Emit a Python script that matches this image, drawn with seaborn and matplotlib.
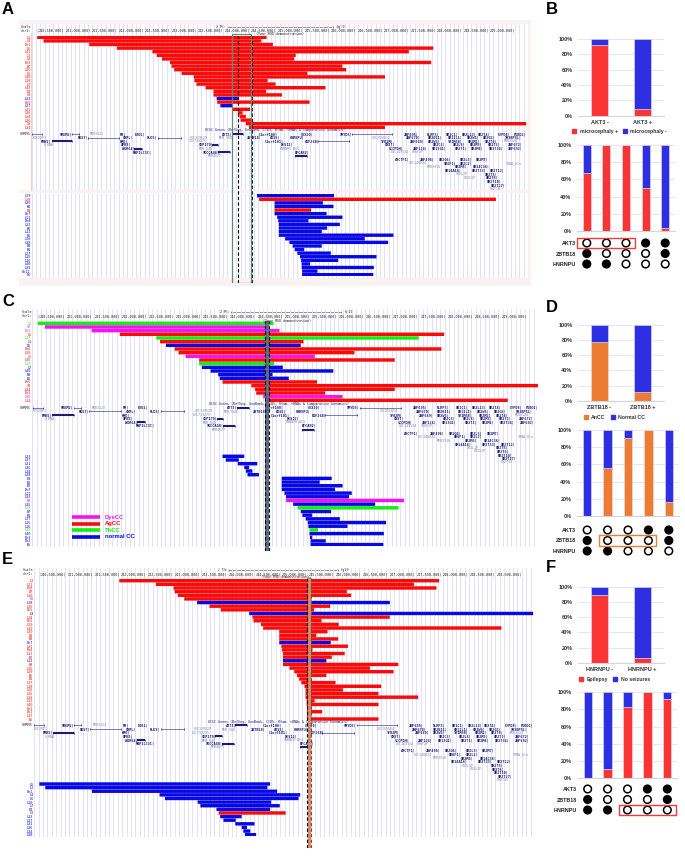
import numpy as np
import pandas as pd
import seaborn as sns
import matplotlib.pyplot as plt
from matplotlib.patches import Rectangle
from matplotlib.lines import Line2D

W, H = 685, 864

# panel A tracks (Mb on chr1)
a_top_labels = ["L1", "L4", "Dn1", "L5", "L41", "L2", "L3", "Dn3", "B7", "L10", "L6", "L40", "L18",
                "L7", "L43", "D4", "L8", "L33", "Dn5", "L37", "L31", "L36", "L34", "L30", "L9", "L24"]
a_top_start = [239.99, 240.11, 240.97, 241.49, 242.16, 242.24, 242.34, 242.49, 242.52, 242.57, 242.71, 242.94, 242.95,
               242.99, 243.16, 243.31, 243.31, 243.37, 243.38, 243.44, 243.66, 243.77, 243.80, 243.82, 243.92, 243.98]
a_top_end = [244.31, 244.21, 244.43, 247.45, 246.99, 244.86, 244.83, 247.41, 245.74, 245.81, 245.08, 246.54, 244.33,
             244.48, 245.42, 244.30, 244.60, 243.77, 245.12, 243.66, 244.00, 243.86, 243.92, 244.05, 249.20, 246.54]
a_top_color = ["red"] * 17 + ["blue", "red", "blue"] + ["red"] * 6

a_low_labels = ["L29", "L28", "L35", "B3", "B4", "Dn7", "L11", "Dn4", "L32", "B2", "L12", "B6", "L26",
                "L38", "B8", "B1", "L27", "L15", "L16", "L40", "L39", "Dn12", "D6"]
a_low_start = [244.13, 244.17, 244.46, 244.46, 244.46, 244.46, 244.51, 244.53, 244.54, 244.54, 244.54, 244.54,
               244.66, 244.74, 244.80, 244.84, 244.89, 244.94, 244.96, 244.97, 244.97, 244.98, 244.98]
a_low_end = [245.58, 248.63, 245.37, 245.57, 245.15, 245.44, 245.74, 245.10, 245.69, 245.45, 245.35, 246.70,
             246.16, 246.60, 245.35, 245.02, 245.52, 246.38, 245.66, 245.13, 246.33, 245.27, 246.32]
a_low_color = ["blue", "red", "blue", "blue", "red"] + ["blue"] * 18

# panel C tracks
c_top_labels = ["L1", "S2", "Dn1", "L5", "L43", "L4", "D5", "Dn6", "L10", "L6", "L26", "L19", "L7",
                "L40", "B9", "B5", "Dn5", "S8", "L34", "Dn3", "L30", "L14"]
c_top_start = [239.99, 240.12, 240.98, 241.50, 242.17, 242.24, 242.35, 242.51, 242.58, 242.71, 242.96, 242.96,
               243.01, 243.17, 243.31, 243.34, 243.39, 243.92, 243.99, 244.01, 244.14, 244.18]
c_top_end = [244.33, 244.23, 244.44, 247.47, 247.00, 244.88, 244.83, 247.42, 245.82, 245.09, 246.56, 244.34,
             244.50, 245.43, 244.31, 244.61, 245.13, 249.21, 246.56, 245.28, 245.60, 248.64]
c_top_color = ["green", "magenta", "magenta", "red", "green", "red", "blue", "red", "red", "magenta", "red",
               "green", "blue", "blue", "blue", "blue", "red", "red", "red", "red", "magenta", "red"]

c_low_labels = ["L33", "L37", "L31", "L36", "L34", "L38", "D8", "B6", "B2", "Dn7", "L11", "L32", "B8",
                "L35", "L29", "B7", "B1", "L27", "L15", "L16", "L39", "L40", "Dn3", "Dn2", "B5"]
c_low_start = [243.39, 243.45, 243.67, 243.79, 243.82, 243.85, 244.48, 244.48, 244.48, 244.48, 244.53, 244.56,
               244.56, 244.69, 244.77, 244.83, 244.86, 244.92, 244.96, 244.97, 244.99, 244.99, 245.00, 245.01, 245.01]
c_low_end = [243.79, 243.69, 244.03, 243.88, 243.94, 244.06, 245.40, 245.18, 245.60, 245.46, 245.77, 245.72,
             246.73, 246.20, 246.63, 245.39, 245.04, 245.55, 246.40, 245.69, 245.15, 246.36, 245.04, 245.29, 246.35]
c_low_color = ["blue"] * 12 + ["magenta", "blue", "green"] + ["blue"] * 5 + ["green"] + ["blue"] * 4

# panel E tracks
e_top_labels = ["L3", "L21", "Dn8", "D7", "L10", "L6", "L28", "L25", "Dn5", "L9", "L24", "Dn1", "L29",
                "L19", "L20", "B4", "B3", "Dn7", "L31", "Dn4", "L11", "B2", "L12", "B8", "L26", "L39",
                "B6", "B1", "L27", "L18", "L16", "L15", "L33", "L22", "L40", "Dn3", "Dn2", "L17", "B5"]
e_top_start = [241.49, 242.17, 242.50, 242.52, 242.58, 242.70, 242.94, 243.17, 243.38, 243.91, 243.97, 243.99, 244.13,
               244.17, 244.47, 244.47, 244.47, 244.47, 244.51, 244.52, 244.54, 244.54, 244.54, 244.54, 244.66, 244.75,
               244.80, 244.84, 244.88, 244.94, 244.96, 244.96, 244.96, 244.98, 244.98, 244.99, 244.99, 244.99, 244.99]
e_top_end = [247.45, 246.98, 247.40, 245.73, 245.81, 245.07, 246.53, 245.42, 245.12, 249.20, 246.53, 245.26, 245.58,
             248.61, 245.37, 245.16, 245.57, 245.43, 245.75, 245.09, 245.69, 245.45, 245.35, 246.69, 246.16, 246.60,
             245.35, 245.07, 245.52, 246.37, 245.66, 246.32, 247.06, 245.13, 246.32, 245.07, 245.27, 245.07, 246.32]
e_top_color = ["red"] * 39
for i in [6, 9, 17, 22]:
    e_top_color[i] = "blue"

e_low_labels = ["L5", "L2", "Dn1", "L4", "L6", "L10", "L7", "D4", "L8", "L33", "L37", "L31", "L36", "L34", "L38"]
e_low_start = [240.00, 240.11, 240.98, 242.24, 242.34, 242.95, 243.00, 243.30,
               243.34, 243.37, 243.43, 243.65, 243.77, 243.80, 243.83]
e_low_end = [244.30, 244.25, 244.43, 244.86, 244.83, 244.32, 244.48, 244.30,
             244.59, 243.77, 243.66, 244.01, 243.87, 243.93, 244.04]
e_low_color = ["blue"] * 8 + ["red"] + ["blue"] * 6

# gene track, same genes in the three browser panels
gene_names = ["GREM2", "FH", "EXO1", "RGS7", "CHML", "PLD5", "FMN2", "KMO", "OPN3", "CEP170", "WDR64",
              "MAP1LC3C", "SDCCAG8", "AKT3", "ZBTB18", "C1orf100", "ADSS", "HNRNPU", "C1orf101", "DESI2", "KIF26B",
              "EFCAB2", "SMYD3", "COX20", "ZNF695", "NLRP3", "OR1C1", "OR2L13", "OR2T4", "LYPD8", "PGBD2",
              "ZNF670", "OR2B11", "OR11L1", "OR2W5", "OR2G3", "SH3BP5L", "TFB2M", "ZNF669", "OR2W3", "TRIM58",
              "OR2M2", "OR2T8", "CNST", "OR2C3", "OR2L8", "OR2M3", "OR2T3", "ZNF672", "SCCPDH", "ZNF124",
              "OR13G1", "OR2T1", "OR2M4", "OR2T34", "ZNF692", "AHCTF1", "ZNF496", "OR2G6", "OR2L3", "OR2M7",
              "OR6F1", "OR2L2", "OR2M5", "OR14C36", "OR14A16", "OR2T33", "OR2T12", "OR2T5", "OR2T6", "OR2T10",
              "OR2T27"]
gene_x = [240.42, 241.55, 241.83, 240.75, 241.61, 242.06, 240.06, 241.54, 241.56, 243.03, 241.59,
          241.80, 243.11, 243.47, 243.94, 244.16, 244.38, 244.74, 244.28, 244.58, 245.03,
          244.85, 245.68, 244.95, 246.89, 247.33, 247.69, 247.98, 248.29, 248.67, 248.97,
          246.94, 247.34, 247.73, 248.08, 248.38, 248.79, 246.47, 247.00, 247.34, 247.73,
          248.11, 248.42, 246.54, 247.45, 247.82, 248.13, 248.47, 248.85, 246.62, 247.06,
          247.43, 247.85, 248.16, 248.49, 248.86, 246.73, 247.20, 247.55, 247.95, 248.25,
          247.64, 247.95, 247.86, 248.20, 247.67, 248.17, 248.52, 248.42, 248.44, 248.46,
          248.54]
gene_row = [1, 1, 1, 2, 2, 2, 3, 3, 4, 4, 5,
            6, 6, 1, 2, 1, 2, 2, 3, 4, 3,
            6, 1, 1, 1, 1, 1, 1, 1, 1, 1,
            2, 2, 2, 2, 2, 2, 3, 3, 3, 3,
            3, 3, 4, 4, 4, 4, 4, 4, 5, 5,
            5, 5, 5, 5, 5, 8, 8, 8, 8, 8,
            9, 9, 10, 10, 11, 11, 11, 12, 13, 14,
            15]

gray_names = ["MIR3123", "KIF28P1", "LOC339529", "LOC731275", "U_RNA", "MIR_548", "MIR4677", "MIR_568",
              "HNRNPU-AS1", "LOC255654", "MIR3124", "LOC149134", "OR6F2P", "LOC148824", "TRNA_Glu",
              "MIR3916", "OR2L1P", "OR2G1P", "OR2T35"]
gray_x = [240.99, 239.90, 242.87, 242.84, 240.11, 243.03, 243.20, 243.41,
          244.56, 246.28, 248.77, 246.64, 247.04, 246.98, 248.82,
          247.33, 247.88, 248.02, 248.52]
gray_row = [1, 2, 2, 3, 4, 5, 7, 2,
            5, 2, 3, 6, 6, 9, 9,
            10, 12, 13, 16]

# gene bodies
body_start = [239.90, 240.65, 240.94, 242.26, 240.26, 243.28, 241.82, 243.40, 243.65, 245.27, 245.92, 244.85]
body_end = [240.08, 240.78, 241.53, 242.69, 240.65, 243.40, 241.97, 243.62, 243.87, 245.87, 246.67, 245.07]
body_row = [1, 1, 2, 2, 3, 4, 5, 6, 1, 3, 1, 7]
body_solid = [False, False, False, False, True, True, True, True, True, False, False, True]

# stacked bars, right hand panels
b_top_cats = ["AKT3 -", "AKT3 +"]
b_top_low = [92, 9]
b_top_high = [8, 91]
b_bars_low = [67, 100, 100, 50, 4]
b_bars_high = [33, 0, 0, 50, 96]

d_top_cats = ["ZBTB18 -", "ZBTB18 +"]
d_top_low = [77, 12]
d_top_high = [23, 88]
d_bars_low = [0, 56, 91, 100, 16]
d_bars_high = [100, 44, 9, 0, 84]

f_top_cats = ["HNRNPU -", "HNRNPU +"]
f_top_low = [89, 7]
f_top_high = [11, 93]
f_bars_low = [0, 11, 83, 100, 92]
f_bars_high = [100, 89, 17, 0, 8]

dot_genes = ["AKT3", "ZBTB18", "HNRNPU"]
dot_filled = [[0, 0, 0, 1, 1],
              [1, 0, 0, 0, 1],
              [1, 1, 0, 0, 0]]

track_colors = {"red": "#fb0a0a", "blue": "#0808e6", "green": "#14ee14", "magenta": "#f414f0"}
chart_red = "#f93434"
chart_blue = "#2f2fe2"
chart_orange = "#ec7c34"
grid_col = "#e2e2f6"
navy = "#1c1c78"

sns.set_theme(style="white")
plt.rcParams["font.family"] = ["Liberation Sans", "DejaVu Sans"]
plt.rcParams["axes.axisbelow"] = True

fig = plt.figure(figsize=(W / 100, H / 100), dpi=100, facecolor="white")


def axes_px(left, top, right, bottom):
    ax = fig.add_axes([left / W, 1 - bottom / H, (right - left) / W, (bottom - top) / H])
    ax.patch.set_alpha(0)
    return ax


def mb_lim(left, right, px0, px_per_mb):
    return 240 + (left - px0) / px_per_mb, 240 + (right - px0) / px_per_mb


def grid_block(left, top, right, bottom, xlim):
    ax = axes_px(left, top, right, bottom)
    ax.set_xlim(xlim)
    ax.set_ylim(0, 1)
    ax.set_yticks([])
    ax.set_xticks(np.arange(239.75, 249.3, 1 / 12))
    ax.tick_params(length=0, labelbottom=False)
    ax.grid(axis="x", color=grid_col, lw=0.7)
    sns.despine(ax=ax, left=True, bottom=True)
    return ax


def track_block(left, right, y0, pitch, xlim, labels, starts, ends, colors):
    n = len(labels)
    ax = axes_px(left, y0 - pitch / 2, right, y0 + (n - 0.5) * pitch)
    rows = np.arange(n)
    starts = np.array(starts)
    ends = np.array(ends)
    colors = np.array(colors)
    for name in np.unique(colors):
        # bars of the other colours get zero length so every row stays in place
        widths = np.where(colors == name, ends - starts, 0)
        sns.barplot(x=widths, y=rows, orient="y", left=starts, color=track_colors[name], saturation=1,
                    errorbar=None, width=0.94, linewidth=0, ax=ax)
    for bar in ax.patches:
        bar.set_snap(False)
    ax.set_xlim(xlim)
    ax.set_xlabel("")
    ax.set_ylabel("")
    ax.set_xticks([])
    ax.set_yticks(rows, labels, family="DejaVu Sans Mono", fontsize=2.6)
    ax.tick_params(axis="y", length=0, pad=0.6)
    for tick, c in zip(ax.get_yticklabels(), colors):
        tick.set_color(track_colors[c])
    sns.despine(ax=ax, left=True, bottom=True)
    return ax


def add_header(ax, xlim):
    ticks = np.arange(240.5, 249.5, 0.5)
    ax.set_xticks(ticks, [f"{int(t * 1e6):,}|" for t in ticks], family="DejaVu Sans Mono", fontsize=2.5,
                  ha="right", color="#222222")
    ax.xaxis.tick_top()
    ax.tick_params(axis="x", length=0, pad=1.8)
    ax.set_xlim(xlim)


def gene_block(left, right, y0, pitch, xlim):
    ax = axes_px(left, y0 - pitch / 2, right, y0 + 16.5 * pitch)
    ax.set_xlim(xlim)
    ax.set_ylim(16.5, -0.5)
    ax.axis("off")
    ax.text(243.15, 0, "UCSC Genes (RefSeq, GenBank, CCDS, Rfam, tRNAs & Comparative Genomics)",
            family="DejaVu Sans Mono", fontsize=2.4, color=navy, va="center")
    ax.text(xlim[0] - 0.03, 1, "CHRM3", family="DejaVu Sans Mono", fontsize=2.6, color="#222222",
            va="center", ha="right", clip_on=False)
    for name, x, r in zip(gene_names, gene_x, gene_row):
        ax.text(x, r, name + "|", family="DejaVu Sans Mono", fontsize=2.5, fontweight="bold", color=navy,
                va="center", clip_on=False)
    for name, x, r in zip(gray_names, gray_x, gray_row):
        ax.text(x, r, name, family="DejaVu Sans Mono", fontsize=2.4, color="#8686ac", va="center", clip_on=False)
    for s, e, r, solid in zip(body_start, body_end, body_row, body_solid):
        ax.plot([s, e], [r, r], color=navy, lw=1.5 if solid else 0.4, solid_capstyle="butt")
        ax.plot([s, e], [r, r], ls="", marker="|", ms=2, mew=0.5, color=navy)
    return ax


def stacked(left, top, right, bottom, cats, low, high, low_col, high_col, with_labels):
    ax = axes_px(left, top, right, bottom)
    sns.barplot(x=cats, y=low, color=low_col, saturation=1, width=0.41, linewidth=0.4, edgecolor="#e8e0ee",
                ax=ax)
    sns.barplot(x=cats, y=high, bottom=low, color=high_col, saturation=1, width=0.41, linewidth=0.4,
                edgecolor="#e8e0ee", ax=ax)
    ax.set_ylim(0, 100)
    ax.set_yticks(range(0, 101, 20), [f"{v}%" for v in range(0, 101, 20)])
    ax.grid(axis="y", color="#e6e6f4", lw=0.8)
    ax.tick_params(axis="y", length=0, pad=4, labelsize=4, labelcolor="#333333")
    for t in ax.get_yticklabels():
        t.set_fontweight("bold")
    if with_labels:
        ax.tick_params(axis="x", length=0, pad=3, labelsize=4, labelcolor="#333333")
        for t in ax.get_xticklabels():
            t.set_fontweight("bold")
    else:
        ax.tick_params(axis="x", length=0, labelbottom=False)
    sns.despine(ax=ax, left=True)
    ax.spines["bottom"].set_color("#d4d4dc")
    ax.spines["bottom"].set_linewidth(0.8)
    ax.set_xlabel("")
    ax.set_ylabel("")
    return ax


def top_legend(ax, names, cols, x, y):
    handles = [Line2D([], [], ls="", marker="s", ms=2.2, color=c, label=n) for n, c in zip(names, cols)]
    leg = ax.legend(handles=handles, ncol=2, frameon=False, loc="center", bbox_to_anchor=(x, y),
                    fontsize=3.7, handletextpad=0.05, columnspacing=0.4, borderpad=0)
    for t in leg.get_texts():
        t.set_fontweight("bold")
        t.set_color("#333333")


def dots(left, right, y0, pitch, box_row, box_from, box_to, box_col):
    ax = axes_px(left, y0 - pitch / 2, right, y0 + 2.5 * pitch)
    df = pd.DataFrame({"col": np.tile(np.arange(5), 3),
                       "row": np.repeat(np.arange(3), 5),
                       "state": np.ravel(dot_filled)})
    sns.scatterplot(data=df, x="col", y="row", hue="state", palette={0: "white", 1: "black"}, s=30,
                    edgecolor="black", linewidth=1.1, legend=False, clip_on=False, ax=ax)
    ax.set_xlim(-0.5, 4.5)
    ax.set_ylim(2.5, -0.5)
    ax.set_xticks([])
    ax.set_yticks(range(3), dot_genes, fontsize=3.9, fontweight="bold", color="#222222")
    ax.tick_params(axis="y", length=0, pad=0.6)
    ax.set_xlabel("")
    ax.set_ylabel("")
    sns.despine(ax=ax, left=True, bottom=True)
    ax.add_patch(Rectangle((box_from, box_row - 0.52), box_to - box_from, 1.04, fill=False, ec=box_col, lw=1,
                           clip_on=False, zorder=5))


def browser_text(bg, px0, y_scale, y_chr, bar_from, bar_to, label_x):
    bg.text(px0 - 6, y_scale, "Scale", family="DejaVu Sans Mono", fontsize=2.5, ha="right", va="center",
            color="#222222")
    bg.text(px0 - 6, y_chr, "chr1:", family="DejaVu Sans Mono", fontsize=2.5, ha="right", va="center",
            color="#222222")
    bg.text(px0 - 2 + 0.5, y_chr, "|", family="DejaVu Sans Mono", fontsize=2.5, ha="left", va="center",
            color="#222222")
    bg.text(bar_from - 2, y_scale, "2 Mb", family="DejaVu Sans Mono", fontsize=2.6, ha="right", va="center",
            color="#222222")
    bg.plot([bar_from, bar_to], [y_scale, y_scale], color="#444444", lw=0.4)
    bg.plot([bar_from, bar_to], [y_scale, y_scale], ls="", marker="|", ms=2, mew=0.4, color="#444444")
    bg.text(label_x, y_scale, "hg19", family="DejaVu Sans Mono", fontsize=2.6, va="center", color="#222222")


# page level layer: pink bands, letters, scale bars
bg = axes_px(0, 0, W, H)
bg.set_xlim(0, W)
bg.set_ylim(H, 0)
bg.axis("off")
pink = "#faf1f1"
bg.add_patch(Rectangle((19, 20), 511, 4, color=pink, lw=0))
bg.add_patch(Rectangle((19, 190), 511, 3.2, color=pink, lw=0))
bg.add_patch(Rectangle((19, 278), 511, 8, color=pink, lw=0))
bg.add_patch(Rectangle((528, 20), 3, 266, color=pink, lw=0))
bg.plot([31.5, 31.5], [33, 190], color="#f6caca", lw=0.7)
bg.plot([32.3, 32.3], [318, 445], color="#f6caca", lw=0.7)
bg.plot([34, 34], [575, 745], color="#f6caca", lw=0.7)

for letter, x, y in [("A", 2, 9), ("B", 546, 9), ("C", 2, 302), ("D", 546, 307), ("E", 2, 559), ("F", 546, 568)]:
    bg.text(x, y, letter, fontsize=12, fontweight="bold", color="black", va="center", ha="left")

browser_text(bg, 37.7, 26.7, 30.7, 227, 333, 337)
browser_text(bg, 38.3, 312.3, 316.3, 231, 341, 345)
browser_text(bg, 39.3, 570.3, 574.3, 229, 338, 341)

# panel A
xlim_a = mb_lim(31.5, 528, 37.7, 53.1)
grid_block(31.5, 24, 528, 190, xlim_a)
grid_block(31.5, 193.2, 528, 278, xlim_a)
ax = track_block(31.5, 528, 37.3, 3.6, xlim_a, a_top_labels, a_top_start, a_top_end, a_top_color)
add_header(ax, xlim_a)
track_block(31.5, 528, 195.7, 3.59, xlim_a, a_low_labels, a_low_start, a_low_end, a_low_color)
gene_block(31.5, 528, 130.3, 3.65, xlim_a)
hl = axes_px(31.5, 34, 528, 283)
hl.set_xlim(xlim_a)
hl.set_ylim(0, 1)
hl.axis("off")
hl.add_patch(Rectangle((243.65, 0), 0.36, 1, fill=False, ec="#5c8c78", lw=0.9))
hl.axvline(243.77, ymax=0.99, color="black", ls=(0, (3, 2)), lw=0.8)
hl.axvline(244.04, ymax=0.99, color="#222222", ls=(0, (3, 2)), lw=0.8)
hl.text(244.12, 1.0, "(Your RSD demonstration)", family="DejaVu Sans Mono", fontsize=2.4, color="#222222",
        va="center")

# panel C
xlim_c = mb_lim(32.3, 538, 38.33, 54.33)
grid_block(32.3, 309, 538, 547, xlim_c)
ax = track_block(32.3, 538, 323.3, 3.667, xlim_c, c_top_labels, c_top_start, c_top_end, c_top_color)
add_header(ax, xlim_c)
track_block(32.3, 538, 456.3, 3.68, xlim_c, c_low_labels, c_low_start, c_low_end, c_low_color)
gene_block(32.3, 538, 404, 3.65, xlim_c)
hl = axes_px(32.3, 321, 538, 551)
hl.set_xlim(xlim_c)
hl.set_ylim(0, 1)
hl.axis("off")
hl.axvspan(244.18, 244.25, color="#5c6c88", lw=0)
hl.axvline(244.18, color="black", ls=(0, (3, 2)), lw=0.8)
hl.axvline(244.25, color="black", ls=(0, (3, 2)), lw=0.8)
hl.text(244.14, 1.0, "(Your RSD demonstration)", family="DejaVu Sans Mono", fontsize=2.4, color="#222222",
        va="center")

# panel E
xlim_e = mb_lim(34.3, 535, 39.33, 53.67)
grid_block(34.3, 568, 535, 836.7, xlim_e)
ax = track_block(34.3, 535, 580.7, 3.64, xlim_e, e_top_labels, e_top_start, e_top_end, e_top_color)
add_header(ax, xlim_e)
track_block(34.3, 535, 784, 3.62, xlim_e, e_low_labels, e_low_start, e_low_end, e_low_color)
gene_block(34.3, 535, 721.7, 3.65, xlim_e)
hl = axes_px(34.3, 577, 535, 848)
hl.set_xlim(xlim_e)
hl.set_ylim(0, 1)
hl.axis("off")
hl.axvspan(245.01, 245.07, color="#d98a62", lw=0)
hl.axvline(244.98, color="black", ls=(0, (3, 2)), lw=0.8)
hl.axvline(245.07, color="#555555", ls=(0, (3, 2)), lw=0.8)
hl.text(244.13, 1.0, "(Your RSD demonstration)", family="DejaVu Sans Mono", fontsize=2.4, color="#222222",
        va="center")

# panel B
ax = stacked(578, 39, 664, 115.5, b_top_cats, b_top_low, b_top_high, chart_red, chart_blue, True)
top_legend(ax, ["microcephaly +", "microcephaly -"], [chart_red, chart_blue], 0.465, -0.21)
stacked(577, 145, 675, 231, list("12345"), b_bars_low, b_bars_high, chart_red, chart_blue, False)
dots(577, 675, 243, 10.5, 0, -0.5, 2.45, "#ee3b3b")

# panel D
ax = stacked(578, 324.7, 664, 400.7, d_top_cats, d_top_low, d_top_high, chart_orange, chart_blue, True)
top_legend(ax, ["AnCC", "Normal CC"], [chart_orange, chart_blue], 0.407, -0.22)
stacked(577, 430, 679, 516, list("12345"), d_bars_low, d_bars_high, chart_orange, chart_blue, False)
dots(577, 679, 530, 10.5, 1, 0.58, 3.37, chart_orange)

# panel F
ax = stacked(578, 586.7, 664, 663, f_top_cats, f_top_low, f_top_high, chart_red, chart_blue, True)
top_legend(ax, ["Epilepsy", "No seizures"], [chart_red, chart_blue], 0.407, -0.22)
stacked(577.7, 692, 677.3, 778.3, list("12345"), f_bars_low, f_bars_high, chart_red, chart_blue, False)
dots(577.7, 677.3, 789, 10.5, 2, 1.57, 4.44, "#ee3b3b")

# CC type legend, on top of the panel C grid
fg = axes_px(0, 0, W, H)
fg.set_xlim(0, W)
fg.set_ylim(H, 0)
fg.axis("off")
legend_names = ["DysCC", "AgCC", "ThCC", "normal CC"]
legend_colors = ["magenta", "red", "green", "blue"]
for i, (n, c) in enumerate(zip(legend_names, legend_colors)):
    y = 517.3 + i * 6.4
    fg.plot([72, 100], [y, y], color=track_colors[c], lw=2.6, solid_capstyle="butt")
    fg.text(105, y, n, color=track_colors[c], fontsize=4.2, fontweight="bold", va="center")

fig.savefig("out.png", dpi=100)
